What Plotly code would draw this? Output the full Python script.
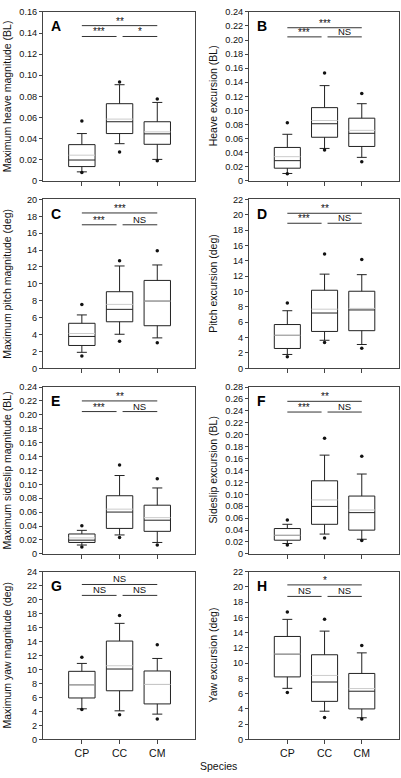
import plotly.graph_objects as go

species = ["CP", "CC", "CM"]

# Panel A: Maximum heave magnitude (BL)
A_q1 = [0.0134, 0.0447, 0.0345]
A_med = [0.0196, 0.0559, 0.0444]
A_q3 = [0.0342, 0.073, 0.0559]
A_mean = [0.0242, 0.0584, 0.0463]
A_lo = [0.0084, 0.0351, 0.0202]
A_hi = [0.0447, 0.091, 0.0742]
A_min = [0.0078, 0.0273, 0.019]
A_max = [0.0565, 0.0935, 0.0774]

# Panel B: Heave excursion (BL)
B_q1 = [0.0178, 0.0618, 0.0487]
B_med = [0.0285, 0.081, 0.0674]
B_q3 = [0.0473, 0.1039, 0.0889]
B_mean = [0.0342, 0.0856, 0.0716]
B_lo = [0.0103, 0.0459, 0.0332]
B_hi = [0.066, 0.1352, 0.1095]
B_min = [0.0098, 0.0435, 0.0271]
B_max = [0.0823, 0.153, 0.124]

# Panel C: Maximum pitch magnitude (deg)
C_q1 = [2.7, 5.51, 5.04]
C_med = [3.77, 6.98, 7.96]
C_q3 = [5.33, 9.07, 10.41]
C_mean = [4.12, 7.57, 7.96]
C_lo = [1.89, 4.03, 3.6]
C_hi = [6.32, 12.12, 12.24]
C_min = [1.46, 3.21, 3.02]
C_max = [7.57, 12.74, 13.93]

# Panel D: Pitch excursion (deg)
D_q1 = [2.58, 4.8, 4.9]
D_med = [4.29, 7.2, 7.6]
D_q3 = [5.7, 10.17, 10.04]
D_mean = [4.3, 7.7, 7.8]
D_lo = [1.8, 3.65, 3.1]
D_hi = [7.5, 12.27, 12.2]
D_min = [1.5, 3.35, 2.6]
D_max = [8.5, 14.9, 14.16]

# Panel E: Maximum sideslip magnitude (BL)
E_q1 = [0.0164, 0.0366, 0.0324]
E_med = [0.0197, 0.0601, 0.0484]
E_q3 = [0.0286, 0.0836, 0.070]
E_mean = [0.023, 0.0643, 0.0521]
E_lo = [0.0127, 0.0272, 0.0164]
E_hi = [0.0338, 0.1127, 0.0948]
E_min = [0.0099, 0.0235, 0.0127]
E_max = [0.0404, 0.1277, 0.108]

# Panel F: Sideslip excursion (BL)
F_q1 = [0.0229, 0.0496, 0.0398]
F_med = [0.031, 0.0796, 0.0692]
F_q3 = [0.0425, 0.1226, 0.097]
F_mean = [0.0312, 0.0905, 0.0736]
F_lo = [0.0174, 0.0332, 0.0245]
F_hi = [0.0496, 0.1657, 0.134]
F_min = [0.0147, 0.0267, 0.0223]
F_max = [0.057, 0.194, 0.164]

# Panel G: Maximum yaw magnitude (deg)
G_q1 = [5.93, 6.96, 5.08]
G_med = [7.81, 10.07, 7.86]
G_q3 = [9.74, 14.07, 9.79]
G_mean = [7.8, 10.54, 7.86]
G_lo = [4.38, 4.09, 3.62]
G_hi = [10.87, 16.6, 11.58]
G_min = [4.28, 3.53, 2.92]
G_max = [11.76, 17.74, 13.55]

# Panel H: Yaw excursion (deg)
H_q1 = [8.2, 4.99, 4.0]
H_med = [11.18, 7.53, 6.32]
H_q3 = [13.5, 11.1, 8.65]
H_mean = [11.2, 8.39, 6.67]
H_lo = [6.7, 3.7, 2.84]
H_hi = [15.74, 14.2, 11.35]
H_min = [6.15, 2.88, 2.67]
H_max = [16.7, 15.74, 12.3]

# Significance labels: [CP-CM (top), CP-CC, CC-CM]
sig_A = ["**", "***", "*"]
sig_B = ["***", "***", "NS"]
sig_C = ["***", "***", "NS"]
sig_D = ["**", "***", "NS"]
sig_E = ["**", "***", "NS"]
sig_F = ["**", "***", "NS"]
sig_G = ["NS", "NS", "NS"]
sig_H = ["*", "NS", "NS"]

# Significance bar heights: [top, lower]
sigy_A = [0.147, 0.1367]
sigy_B = [0.2175, 0.2045]
sigy_C = [18.4, 17.0]
sigy_D = [20.2, 18.9]
sigy_E = [0.22, 0.2047]
sigy_F = [0.256, 0.238]
sigy_G = [22.16, 20.6]
sigy_H = [20.26, 18.75]

# Y axis tick labels
ticks_A = ["0", "0.02", "0.04", "0.06", "0.08", "0.10", "0.12", "0.14", "0.16"]
ticks_B = ["0", "0.02", "0.04", "0.06", "0.08", "0.10", "0.12", "0.14", "0.16", "0.18", "0.20", "0.22", "0.24"]
ticks_C = [str(v) for v in range(0, 21, 2)]
ticks_D = [str(v) for v in range(0, 23, 2)]
ticks_E = ["0", "0.02", "0.04", "0.06", "0.08", "0.10", "0.12", "0.14", "0.16", "0.18", "0.20", "0.22", "0.24"]
ticks_F = ["0", "0.02", "0.04", "0.06", "0.08", "0.10", "0.12", "0.14", "0.16", "0.18", "0.20", "0.22", "0.24", "0.26", "0.28"]
ticks_G = [str(v) for v in range(0, 25, 2)]
ticks_H = [str(v) for v in range(0, 23, 2)]

titles = {
    "A": "Maximum heave magnitude (BL)",
    "B": "Heave excursion (BL)",
    "C": "Maximum pitch magnitude (deg)",
    "D": "Pitch excursion (deg)",
    "E": "Maximum sideslip magnitude (BL)",
    "F": "Sideslip excursion (BL)",
    "G": "Maximum yaw magnitude (deg)",
    "H": "Yaw excursion (deg)",
}

panels = [
    ("A", A_q1, A_med, A_q3, A_mean, A_lo, A_hi, A_min, A_max, sig_A, sigy_A, ticks_A),
    ("B", B_q1, B_med, B_q3, B_mean, B_lo, B_hi, B_min, B_max, sig_B, sigy_B, ticks_B),
    ("C", C_q1, C_med, C_q3, C_mean, C_lo, C_hi, C_min, C_max, sig_C, sigy_C, ticks_C),
    ("D", D_q1, D_med, D_q3, D_mean, D_lo, D_hi, D_min, D_max, sig_D, sigy_D, ticks_D),
    ("E", E_q1, E_med, E_q3, E_mean, E_lo, E_hi, E_min, E_max, sig_E, sigy_E, ticks_E),
    ("F", F_q1, F_med, F_q3, F_mean, F_lo, F_hi, F_min, F_max, sig_F, sigy_F, ticks_F),
    ("G", G_q1, G_med, G_q3, G_mean, G_lo, G_hi, G_min, G_max, sig_G, sigy_G, ticks_G),
    ("H", H_q1, H_med, H_q3, H_mean, H_lo, H_hi, H_min, H_max, sig_H, sigy_H, ticks_H),
]

W, H = 401, 778
# pixel layout
col_x = [(43, 195), (249, 399)]
row_y = [(7, 178), (197, 368), (387, 556), (574, 744)]
title_x = [7, 213]

FONT = "Liberation Sans, Arial, sans-serif"
LINE = "#222222"
FRAME = "#444444"
BOXW = 0.7
xpos = [0, 1, 2]

fig = go.Figure()
layout = dict(
    width=W, height=H,
    margin=dict(l=0, r=0, t=0, b=0),
    paper_bgcolor="white", plot_bgcolor="white",
    font=dict(family=FONT, size=9, color="#111111"),
    showlegend=False,
    annotations=[],
)

for i, (name, q1, med, q3, mean, lo, hi, mn, mx, sig, sigy, tlab) in enumerate(panels):
    r, c = divmod(i, 2)
    n = i + 1
    xa = "x" if n == 1 else f"x{n}"
    ya = "y" if n == 1 else f"y{n}"
    xkey = "xaxis" if n == 1 else f"xaxis{n}"
    ykey = "yaxis" if n == 1 else f"yaxis{n}"

    fig.add_trace(go.Box(
        x=xpos, q1=q1, median=med, q3=q3, lowerfence=lo, upperfence=hi,
        width=BOXW, whiskerwidth=0.38, boxpoints=False,
        fillcolor="rgba(0,0,0,0)", line=dict(color=LINE, width=1),
        xaxis=xa, yaxis=ya, hoverinfo="skip",
    ))
    # mean lines (light gray)
    mx_x, mx_y = [], []
    for k in range(3):
        mx_x += [xpos[k] - BOXW / 2, xpos[k] + BOXW / 2, None]
        mx_y += [mean[k], mean[k], None]
    fig.add_trace(go.Scatter(x=mx_x, y=mx_y, mode="lines",
                             line=dict(color="#cccccc", width=1),
                             xaxis=xa, yaxis=ya, hoverinfo="skip"))
    # outlier dots
    fig.add_trace(go.Scatter(x=xpos + xpos, y=list(mn) + list(mx), mode="markers",
                             marker=dict(color="#111111", size=3.5),
                             xaxis=xa, yaxis=ya, hoverinfo="skip"))
    # significance bars
    gap = 0.08
    sx = [xpos[0], xpos[2], None, xpos[0], xpos[1] - gap, None, xpos[1] + gap, xpos[2]]
    sy = [sigy[0], sigy[0], None, sigy[1], sigy[1], None, sigy[1], sigy[1]]
    fig.add_trace(go.Scatter(x=sx, y=sy, mode="lines",
                             line=dict(color="#333333", width=1),
                             xaxis=xa, yaxis=ya, hoverinfo="skip"))
    centers = [(xpos[0] + xpos[2]) / 2, (xpos[0] + xpos[1] - gap) / 2, (xpos[1] + gap + xpos[2]) / 2]
    levels = [sigy[0], sigy[1], sigy[1]]
    for k in range(3):
        is_ns = sig[k] == "NS"
        layout["annotations"].append(dict(
            x=centers[k], y=levels[k], xref=xa, yref=ya,
            text=sig[k], showarrow=False, xanchor="center", yanchor="bottom",
            yshift=-2 if is_ns else -3,
            font=dict(size=9.5 if is_ns else 10, family=FONT, color="#111111"),
        ))

    x0, x1 = col_x[c]
    y0, y1 = row_y[r]
    ymax = float(tlab[-1])
    step = float(tlab[1])
    tvals = [k * step for k in range(len(tlab))]
    layout[xkey] = dict(
        domain=[x0 / W, x1 / W], anchor=ya, range=[-1.03, 3.0],
        tickvals=xpos, ticktext=species, showticklabels=(r == 3),
        ticks="outside", ticklen=4, tickcolor=FRAME,
        tickfont=dict(size=10.5, family=FONT, color="#111111"),
        showline=True, mirror=True, linecolor=FRAME, linewidth=1,
        showgrid=False, zeroline=False, fixedrange=True,
    )
    layout[ykey] = dict(
        domain=[1 - y1 / H, 1 - y0 / H], anchor=xa, range=[0, ymax],
        tickvals=tvals, ticktext=tlab,
        ticks="outside", ticklen=3, tickcolor=FRAME,
        tickfont=dict(size=9.2, family=FONT, color="#111111"),
        showline=True, mirror=True, linecolor=FRAME, linewidth=1,
        showgrid=False, zeroline=False, fixedrange=True,
    )
    # panel letter
    layout["annotations"].append(dict(
        x=0.04, y=0.975, xref=f"{xa} domain", yref=f"{ya} domain",
        text=f"<b>{name}</b>", showarrow=False, xanchor="left", yanchor="top",
        font=dict(size=14, family=FONT, color="#000000"),
    ))
    # y title
    layout["annotations"].append(dict(
        x=title_x[c] / W, y=1 - (y0 + y1) / 2 / H, xref="paper", yref="paper",
        text=titles[name], textangle=-90, showarrow=False,
        xanchor="center", yanchor="middle",
        font=dict(size=10.5, family=FONT, color="#111111"),
    ))

layout["annotations"].append(dict(
    x=218 / W, y=1 - 771 / H, xref="paper", yref="paper",
    text="Species", showarrow=False, xanchor="center", yanchor="middle",
    font=dict(size=10.5, family=FONT, color="#111111"),
))

fig.update_layout(**layout)
fig.write_html(
    "out.html",
    config={"displayModeBar": False, "staticPlot": True},
    post_script="document.body.style.margin='0';document.body.style.overflow='hidden';",
)
